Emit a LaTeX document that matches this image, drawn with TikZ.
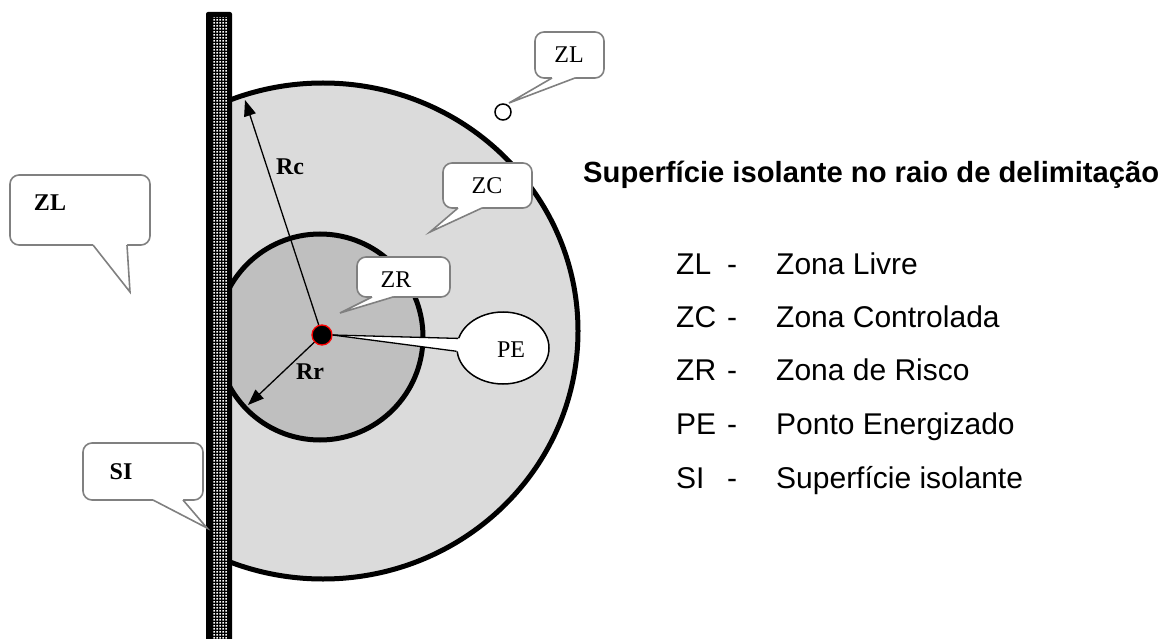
\documentclass[tikz,border=0pt]{standalone}
\usepackage{fontspec}
\setmainfont{Liberation Serif}
\newfontfamily\arialfont{Liberation Sans}
\usetikzlibrary{patterns,arrows.meta,shapes.geometric}

\pgfdeclarepatternformonly{wallchecker}{\pgfqpoint{0pt}{0pt}}{\pgfqpoint{3pt}{3pt}}{\pgfqpoint{3pt}{3pt}}{%
  \pgfpathrectangle{\pgfqpoint{0.5pt}{0.5pt}}{\pgfqpoint{2pt}{2pt}}%
  \pgfusepath{fill}}

\tikzset{
  calloutbox/.style={draw=black!50, line width=1.6pt, fill=white, rounded corners=9pt},
  calloutline/.style={draw=black!50, line width=1.6pt, line join=miter},
  boxtext/.style={font=\fontsize{24}{26}\selectfont, inner sep=0pt},
  boldtext/.style={font=\bfseries\fontsize{24}{26}\selectfont, inner sep=0pt},
  legtitle/.style={font=\arialfont\bfseries\fontsize{29.2}{32}\selectfont, anchor=base west, inner sep=0pt},
  legtext/.style={font=\arialfont\fontsize{30}{33}\selectfont, anchor=base west, inner sep=0pt},
  radiusarrow/.style={line width=1.3pt, -{Triangle[length=16pt,width=12pt]}},
}

\newcommand\speechbox[8]{% x1 y1 x2 y2 a b tx ty
  \filldraw[calloutbox] (#1,#2) rectangle (#3,#4);
  \fill[white] (#5,#4-3) -- (#5,#4) -- (#7,#8) -- (#6,#4) -- (#6,#4-3) -- cycle;
  \draw[calloutline] (#5,#4) -- (#7,#8) -- (#6,#4);
}

\begin{document}
\begin{tikzpicture}[x=1pt,y=-1pt]
\useasboundingbox (0,0) rectangle (1173,639);

% zones
\begin{scope}
  \clip (232,0) rectangle (1173,639);
  \filldraw[fill=black!14, line width=5pt] (323,331) ellipse [x radius=255pt, y radius=248pt];
  \filldraw[fill=black!25, line width=5pt] (320,337) circle [radius=103pt];
\end{scope}

% insulating wall
\fill[black, rounded corners=2pt] (206,12) rectangle (232,650);
\fill[pattern=wallchecker, pattern color=white] (212,18) rectangle (227,639);

% radii
\coordinate (pec) at (322,335);
\coordinate (rcEnd) at (245,100);
\coordinate (rrEnd) at (248,405);
\draw[radiusarrow] (pec) -- (rcEnd);
\draw[radiusarrow] (pec) -- (rrEnd);
\node[boldtext] (rc) at (290,167) {Rc};
\node[boldtext] (rr) at (310,372) {Rr};

% ZR callout
\speechbox{357}{257}{450}{297}{372}{393}{340}{313}
\node[boxtext] (zr) at (396,280) {ZR};

% ZC callout
\speechbox{443}{163}{532}{208}{458}{482}{430}{232}
\node[boxtext] (zc) at (487,186) {ZC};

% PE callout
\node[ellipse, draw=black, line width=1.5pt, fill=white, minimum width=92pt, minimum height=72pt, inner sep=0pt] (peBox) at (503,348) {};
\node[circle, fill=black, draw=red, line width=1.3pt, minimum size=20pt, inner sep=0pt] (pe) at (pec) {};
\fill[white] (pe.east) -- (peBox.168) -- ([xshift=4pt]peBox.168) -- ([xshift=4pt]peBox.184) -- (peBox.184) -- cycle;
\draw[line width=1.3pt] (pe.east) -- (peBox.168);
\draw[line width=1.3pt] (pe.east) -- (peBox.184);
\node[boxtext] (pet) at (511,350) {PE};

% ZL top callout
\node[circle, draw=black, line width=1.5pt, fill=white, minimum size=16pt, inner sep=0pt] (zlpt) at (503,112) {};
\speechbox{535}{32}{604}{78}{552}{575}{509}{103}
\node[boxtext] (zltop) at (569,55) {ZL};

% ZL left callout
\speechbox{10}{175}{150}{245}{93}{127}{130}{292}
\node[boldtext] (zlleft) at (50,203) {ZL};

% SI callout
\speechbox{83}{443}{203}{500}{153}{183}{207}{528}
\node[boldtext] (si) at (121,472) {SI};

% legend
\node[legtitle] (title) at (583,183) {Superfície isolante no raio de delimitação};
\foreach \ab/\desc/\yy [count=\i] in {ZL/Zona Livre/274, ZC/Zona Controlada/327, ZR/Zona de Risco/380, PE/Ponto Energizado/434, SI/Superfície isolante/488}{
  \node[legtext] (ab\i) at (676,\yy) {\ab};
  \node[legtext] (da\i) at (727,\yy) {-};
  \node[legtext] (de\i) at (776,\yy) {\desc};
}
\end{tikzpicture}
\end{document}
